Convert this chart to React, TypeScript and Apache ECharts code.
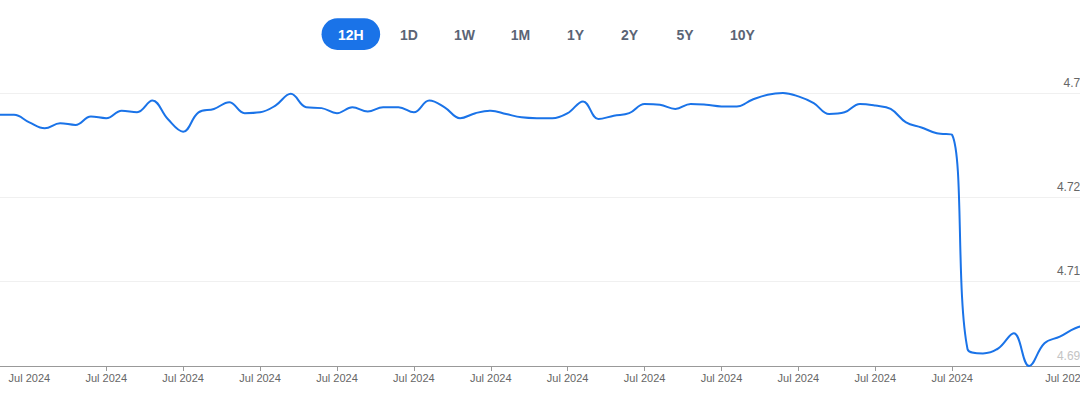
import React, { useEffect, useRef } from "react";
import * as echarts from "echarts";

// Range selector buttons
const periods = ["12H", "1D", "1W", "1M", "1Y", "2Y", "5Y", "10Y"];
const activePeriod = "12H";

// Yield samples (one every ~12 minutes)
const yieldValues = [
  4.7298, 4.7298, 4.7289, 4.7282, 4.7288, 4.7286, 4.7296, 4.7294, 4.7303, 4.7301,
  4.7315, 4.7293, 4.7278, 4.7301, 4.7305, 4.7313, 4.7300, 4.7301, 4.7309, 4.7323,
  4.7307, 4.7306, 4.7300, 4.7307, 4.7302, 4.7307, 4.7307, 4.7301, 4.7315, 4.7307,
  4.7294, 4.7300, 4.7303, 4.7299, 4.7295, 4.7294, 4.7294, 4.7300, 4.7314, 4.7293,
  4.7297, 4.7300, 4.7311, 4.7310, 4.7305, 4.7311, 4.7310, 4.7308, 4.7308, 4.7316,
  4.7322, 4.7324, 4.7320, 4.7312, 4.7299, 4.7301, 4.7311, 4.7309, 4.7305, 4.7289,
  4.7283, 4.7276, 4.7274, 4.7019, 4.7014, 4.7020, 4.7038, 4.6999, 4.7026, 4.7034,
  4.7044, 4.7049,
];

// X axis: sample indices carrying ticks / labels
const xTickIdx = [7, 12, 17, 22, 27, 32, 37, 42, 47, 52, 57, 62];
const xLabelIdx = [2, 7, 12, 17, 22, 27, 32, 37, 42, 47, 52, 57, 62, 69.4];
const xLabelText = "Jul 2024";

// Y axis
const yMin = 4.6999;
const yMax = 4.7324;
const yTickValues = [4.6999, 4.71, 4.72, 4.7324];
const yTickLabels = ["4.6999", "4.7100", "4.7200", "4.732"];

const BLUE = "#1a73e8";
const FONT = "'Liberation Sans', Arial, Helvetica, sans-serif";

export default function App() {
  const ref = useRef<HTMLDivElement>(null);

  useEffect(() => {
    document.body.style.overflow = "hidden";
    document.documentElement.style.overflow = "hidden";
    if (!ref.current) return;
    const chart = echarts.init(ref.current, null, { renderer: "svg" });

    const OFF = 20; // div is shifted 20px left of the page
    const btnCenters = [350.85, 409, 464.5, 520.5, 575.5, 629.5, 685, 742.5];
    const graphic: any[] = [];
    periods.forEach((p, i) => {
      const cx = btnCenters[i] + OFF;
      if (p === activePeriod) {
        graphic.push({
          type: "rect",
          shape: { x: cx - 29.3, y: 18.3, width: 58.6, height: 31.7, r: 16 },
          style: { fill: BLUE },
          silent: true,
        });
      }
      graphic.push({
        type: "text",
        x: cx,
        y: 34.5,
        style: {
          text: p,
          fill: p === activePeriod ? "#ffffff" : "#5b6475",
          font: `600 14px ${FONT}`,
          textAlign: "center",
          textVerticalAlign: "middle",
        },
        silent: true,
      });
    });

    const labelFor = (v: number) => {
      const i = yTickValues.findIndex((t) => Math.abs(t - v) < 1e-7);
      return i >= 0 ? yTickLabels[i] : "";
    };

    chart.setOption({
      animation: false,
      graphic,
      grid: { left: 18.6, right: 29.4, top: 93, bottom: 27 },
      xAxis: {
        type: "value",
        min: 0,
        max: yieldValues.length - 1,
        axisLine: { show: true, lineStyle: { color: "#999999", width: 1 } },
        axisTick: {
          show: true,
          customValues: xTickIdx,
          length: 5,
          lineStyle: { color: "#999999" },
        },
        axisLabel: {
          customValues: xLabelIdx,
          formatter: () => xLabelText,
          color: "#666666",
          fontSize: 11,
          fontFamily: FONT,
          margin: 6,
        },
        splitLine: { show: false },
      },
      yAxis: {
        type: "value",
        position: "right",
        min: yMin,
        max: yMax,
        axisLine: { show: false },
        axisTick: { show: false, customValues: yTickValues },
        axisLabel: {
          inside: true,
          customValues: yTickValues,
          formatter: (v: number) => labelFor(v),
          color: (v: any) => (Math.abs(Number(v) - yMin) < 1e-7 ? "#c4c4c4" : "#666666"),
          verticalAlign: "bottom",
          padding: [0, 0, 4, 0],
          margin: -3,
          fontSize: 12,
          fontFamily: FONT,
        },
        splitLine: { show: true, lineStyle: { color: "#f0f0f0", width: 1 } },
      },
      series: [
        {
          type: "line",
          data: yieldValues.map((v, i) => [i, v]),
          smooth: 0.4,
          showSymbol: false,
          symbol: "none",
          lineStyle: { color: BLUE, width: 2 },
          clip: false,
        },
      ],
    });

    return () => chart.dispose();
  }, []);

  return (
    <div
      ref={ref}
      style={{ position: "fixed", left: -20, top: 0, width: 1140, height: 393, background: "#ffffff" }}
    />
  );
}
